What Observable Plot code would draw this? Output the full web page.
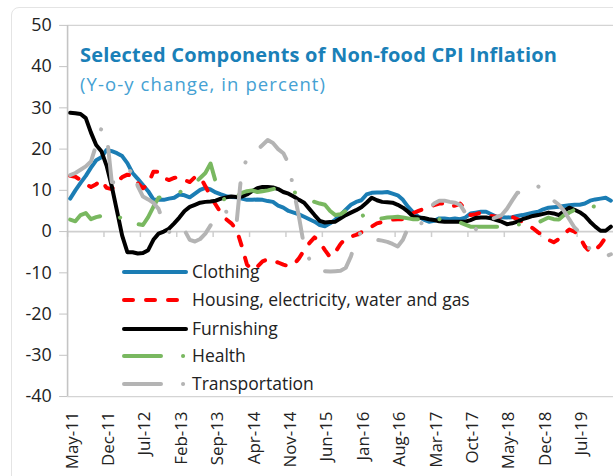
<!DOCTYPE html>
<html><head><meta charset="utf-8">
<script src="https://cdn.jsdelivr.net/npm/d3@7"></script>
<script src="https://cdn.jsdelivr.net/npm/@observablehq/plot@0.6"></script>
<style>
html,body{margin:0;padding:0;background:#fff;overflow:hidden;width:613px;height:476px;}
#wrap{position:relative;width:613px;height:476px;overflow:hidden;font-family:"Open Sans",sans-serif;}
#border{position:absolute;left:11px;top:7px;width:720px;height:600px;border:1px solid #e4e4e4;border-radius:8px;}
#chart{position:absolute;left:0;top:0;}
#title{position:absolute;left:80px;top:41px;font-weight:700;font-size:20px;color:#1a80b8;white-space:nowrap;letter-spacing:0.2px;}
#subtitle{position:absolute;left:80px;top:71px;font-size:18.5px;color:#45a1d3;white-space:nowrap;letter-spacing:1.1px;}
#legend{position:absolute;left:0;top:0;}
</style></head>
<body><div id="wrap"><div id="border"></div><div id="chart"></div>
<div id="title">Selected Components of Non-food CPI Inflation</div>
<div id="subtitle">(Y-o-y change, in percent)</div>
<svg id="legend" width="613" height="476"></svg></div>
<script>
// Monthly categories: May-11 (index 0) ... Jan-20 (index 104)
const tickLabels = ["May-11","Dec-11","Jul-12","Feb-13","Sep-13","Apr-14","Nov-14","Jun-15","Jan-16","Aug-16","Mar-17","Oct-17","May-18","Dec-18","Jul-19"];
const labelEvery = 7;
const yTicks = [-40,-30,-20,-10,0,10,20,30,40,50];

const clothing = [8,10,11.8,13.5,15.5,17.3,18,19.8,19.5,19,18.3,16.6,14.2,12.8,11.3,9.8,7.8,7.7,7.7,8,
8.2,9,8.8,8.3,9.2,10.1,10.6,10.2,9.5,9,8.6,8.4,8.3,8,7.7,7.7,7.8,7.7,7.4,7.2,
6.3,5.8,5,4.6,4.2,3.6,3,2.4,1.6,1.3,2,2.9,4,5.3,6.5,7.2,7.6,9,9.4,9.5,
9.5,9.6,9.2,8.8,7.7,6,4.6,3.6,2.9,2.4,2.6,3.2,3.2,3,3.2,3,3.4,4.4,4.6,4.8,
4.8,4.2,3.6,3.5,3.4,3.5,3.8,4,4.3,4.6,4.8,5.4,5.8,5.9,6,6.2,6.4,6.5,6.5,6.8,
7.5,7.8,8,8.2,7.5];
const housing = [13.5,13.3,12.5,11.5,10.8,11.5,12.5,10.6,10.3,12,13.2,13.8,13.5,11.8,10.5,11.5,14.5,14.5,13,12.5,
13,13.3,12.5,12,13.2,13.3,11,8.5,6.5,4.5,3,2,0.5,-3.5,-8,-9.3,-8.5,-7.2,-6.7,-7.2,
-7.5,-8,-8.4,-8,-6.5,-4.5,-2.8,-1.4,-2.6,-4.5,-6.2,-5,-3,-1.6,-1.2,-0.8,-0.2,0.8,1.2,2,
2.3,2.6,2.9,3,3,3.4,4.5,5,5.5,6,6.4,6.8,6.8,6,6.3,6.8,5.5,4,4.2,4.6,
4.2,3.8,3.6,3.6,3.6,3.6,3,2.4,1.6,0.8,-0.2,-1,-2,-2.6,-1.8,-0.5,0.5,0,-1.3,-3.6,
-5,-4.5,-3.2,-1.4,0];
const furnishing = [28.8,28.7,28.5,27.5,24,21,19.5,16,11,5,-1,-5,-5,-5.3,-5.2,-4.5,-2,-0.5,0,0.7,
2,3.4,5,6,6.5,7,7.2,7.3,7.5,8,8.3,8.5,8.4,8.5,9,9.8,10.5,10.8,10.8,10.7,
10.3,9.6,9.2,8.5,7.7,7,5.5,4,2.6,2.2,2.3,2.4,3.2,4,4.6,5.2,5.9,7,8.2,7.6,
7.2,7.1,7,6.5,5.8,4.8,3.6,3.4,3.3,3,2.8,2.5,2.4,2.4,2.4,2.4,2.4,2.8,3.3,3.4,
3.4,3.2,2.8,2.4,1.8,2,2.4,3,3.4,3.8,4,4.3,4.6,4.4,4,5,5.8,5.3,4.7,3.8,
2.4,1.2,0.2,0.2,1.2];
const health = [2.9,2.5,4,4.5,3,3.5,3.8,4.2,4.6,4,3,3.5,3,1.8,1.6,3.5,6,8.2,8.5,9,
9.2,9.4,10.5,11,11.8,13,14.2,16.5,12,10,6.5,7.7,8.5,9.4,9.8,10,9.6,9.8,10,10.3,
10.6,10,9.6,9.5,9.4,8.4,7.5,7.2,6.8,6.5,5,4,4.2,5,5.5,5.8,4.5,2.5,2.8,3,
3.2,3.4,3.5,3.6,3.4,3.2,3,3,3,3.2,3.4,3,2.8,2.4,2.3,2.2,1.7,1.2,1.2,1.2,
1.2,1.2,1.2,1.2,1.3,1.5,1.7,1.7,1.8,2,2.2,2.8,3.4,3,2.9,4,4.6,5.3,6,6.5,
6.3,6,6.5,7,5.3];
const transportation = [13.7,14.2,15,15.8,17,21,25,24,12,11.8,12.5,13.5,15.5,11,8.5,7.8,7,5.5,2,0,
-1.2,0,0.3,-2,-2.4,-1.8,-0.5,1.5,3.8,4.2,4.8,5,2,15,17.5,18.5,19.8,21,22.2,21.5,
20,19,16.5,10,3.6,-3.6,-6.7,-8.5,-9.6,-9.6,-9.7,-9.6,-9.5,-8.8,-6,-2,0,-1.2,-1.5,-2,
-2.2,-2.5,-3,-3.6,-2,1,1,0.8,3,5.5,6.8,7.5,7.5,7.2,7,6.5,4.5,2,0.5,2.2,
2.4,3,3.5,4,5.5,7.5,9.4,9.5,9.6,10.5,11,9.5,8.2,7.5,6.5,5,3,1,-0.2,-2.5,
-4.3,-5,-5.5,-6,-5.5];

const series = [
  {name:"Clothing", values: clothing, color:"#1b7db4", dash:null},
  {name:"Housing, electricity, water and gas", values: housing, color:"#ff0000", dash:"9,13"},
  {name:"Furnishing", values: furnishing, color:"#000000", dash:null},
  {name:"Health", values: health, color:"#79b860", dash:"37,22,0.1,22"},
  {name:"Transportation", values: transportation, color:"#b4b4b4", dash:"37,22,0.1,22"}
];

const n = clothing.length;
const labelIdx = tickLabels.map((_, k) => k * labelEvery);
const tickPos = d3.range(0, n, labelEvery).map(i => i - 0.5);
const font = '"Open Sans", sans-serif';

const lineMarks = series.map(s => Plot.line(s.values.map((v, i) => ({i, v})), {
  x: "i", y: "v", stroke: s.color, strokeWidth: 4,
  strokeDasharray: s.dash || undefined, strokeLinecap: "round", strokeLinejoin: "round"
}));

const chart = Plot.plot({
  width: 616, height: 476,
  marginLeft: 67.4, marginRight: 0, marginTop: 25, marginBottom: 78,
  style: {fontFamily: font, fontSize: "16px", background: "transparent", overflow: "visible"},
  x: {domain: [-0.5, n - 0.5], axis: null},
  y: {domain: [d3.min(yTicks), d3.max(yTicks)], axis: null},
  marks: [
    Plot.ruleY([d3.max(yTicks), d3.min(yTicks)], {stroke: "#d4d4d4", strokeWidth: 1.3}),
    Plot.ruleY([0], {stroke: "#cfcfcf", strokeWidth: 1.6}),
    Plot.ruleX(tickPos, {y1: 0, y2: 0, insetBottom: -6, stroke: "#cfcfcf", strokeWidth: 1.5}),
    Plot.ruleX([-0.5], {stroke: "#c4c4c4", strokeWidth: 1.6}),
    Plot.axisY({ticks: yTicks, tickSize: 8, tickPadding: 8, tickFormat: d => String(d), label: null,
      stroke: "#c4c4c4", fill: "#222", fontSize: 18}),
    Plot.axisX({ticks: labelIdx, tickSize: 0, tickPadding: 15, tickRotate: -90, label: null, dx: 2,
      tickFormat: i => tickLabels[i / labelEvery], fill: "#222", fontSize: 17}),
    ...lineMarks
  ]
});
document.getElementById("chart").appendChild(chart);

// Legend (transparent, inside plot area)
const leg = d3.select("#legend");
const rowY = [272, 300, 329, 356, 384];
series.forEach((s, k) => {
  const g = leg.append("g").attr("transform", `translate(0,${rowY[k]})`);
  g.append("line").attr("x1", 124).attr("x2", 186)
    .attr("stroke", s.color).attr("stroke-width", 4)
    .attr("stroke-linecap", "round")
    .attr("stroke-dasharray", s.dash || null);
  g.append("text").attr("x", 192).attr("y", 0).attr("dy", "0.35em")
    .attr("font-family", font).attr("font-size", 17.5).attr("fill", "#222").text(s.name);
});
</script></body></html>
